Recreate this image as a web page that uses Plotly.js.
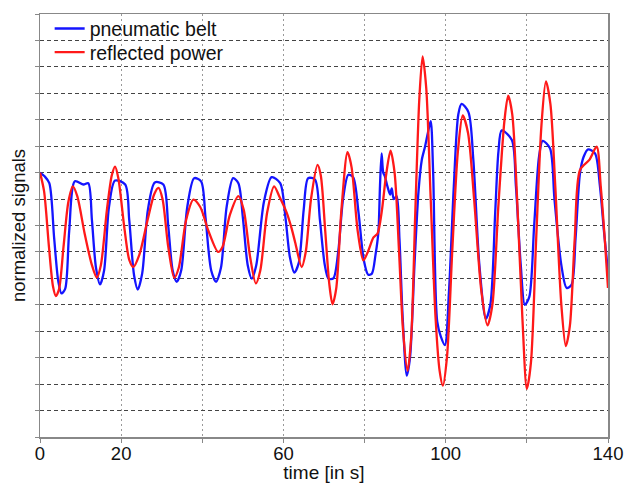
<!DOCTYPE html>
<html>
<head>
<meta charset="utf-8">
<script src="https://cdn.plot.ly/plotly-3.0.1.min.js"></script>
<style>html,body{margin:0;padding:0;background:#fff;}#chart{width:633px;height:483px;}</style>
</head>
<body>
<div id="chart"></div>
<script>
const beltT = [0,1.2,2.3,3.5,4.5,5.3,6.2,7.2,8.6,10.7,11.9,12.8,13.8,14.8,15.8,17.0,18.5,21.0,22.0,23.2,24.1,25.2,26.6,28.3,30.4,31.6,32.7,33.7,34.8,36.3,38.0,39.7,40.8,42.2,43.4,44.6,46.0,47.6,48.9,50.0,51.2,52.2,53.3,55.2,57.1,59.2,60.5,61.6,62.7,63.8,65.0,66.1,67.8,69.0,70.2,71.1,72.3,73.5,74.7,76.0,77.2,78.5,79.8,80.9,81.8,82.7,83.4,83.8,84.2,84.6,85.0,85.6,86.3,86.7,87.2,87.9,88.6,89.4,90.4,91.2,92.3,93.3,94.1,94.9,95.6,96.3,96.9,97.9,98.8,99.8,100.8,102.0,103.1,103.9,105.6,106.8,108.3,109.9,111.0,112.2,113.0,113.8,116.3,117.3,118.5,119.5,120.6,121.8,123.0,123.9,125.7,126.8,128.5,129.8,131.0,132.0,133.1,134.0,135.1,136.8,138.0,139.0,140];
const beltV = [10.0,9.85,9.6,7.5,5.9,5.43,5.6,7.8,9.67,9.55,9.6,8.2,6.4,5.77,6.3,8.7,9.7,9.55,8.2,6.1,5.58,6.2,8.6,9.63,9.55,8.0,6.3,5.87,6.3,8.7,9.79,9.67,8.3,6.3,5.87,6.4,8.7,9.79,9.6,8.3,6.5,5.99,6.5,8.9,9.83,9.6,8.3,6.8,6.22,6.6,8.6,9.79,9.73,8.2,6.5,5.99,6.0,7.0,9.0,9.92,9.82,8.5,6.7,6.14,6.18,6.9,7.74,9.5,10.73,10.0,9.86,9.5,9.17,9.4,9.0,9.11,7.5,4.5,2.32,3.0,6.5,9.3,10.48,10.98,11.5,11.95,10.0,4.37,3.8,3.48,5.5,9.5,12.2,12.6,12.29,10.5,6.5,4.47,5.0,8.5,10.8,11.6,11.23,9.5,6.5,5.0,5.3,8.0,10.6,11.2,10.92,9.0,6.5,5.64,5.75,7.5,9.98,10.6,10.88,10.73,9.5,7.8,6.24];

const powerT = [0,1.0,2.2,3.2,3.9,4.7,5.8,7.0,8.1,9.2,11.0,12.8,14.0,15.0,16.5,17.7,18.5,19.3,20.8,22.0,23.0,24.5,26.5,28.2,29.2,30.2,31.6,33.1,34.2,36.0,37.8,39.5,41.5,43.9,45.0,46.8,48.9,50.2,51.8,53.2,54.3,56.0,57.7,59.0,60.8,62.0,62.9,64.5,65.5,66.8,68.4,69.2,70.3,71.3,72.1,73.0,74.3,75.8,76.8,78.3,79.7,80.8,82.2,83.2,84.2,85.3,86.4,87.4,88.5,89.5,90.6,91.5,92.5,93.5,94.3,95.2,96.3,97.5,98.5,99.3,100.3,101.6,103.0,104.2,105.5,107.0,108.8,110.3,111.5,113.0,114.5,115.4,116.4,117.6,118.9,120.0,121.0,122.3,123.6,124.7,125.8,127.0,128.5,129.6,130.6,131.8,133.1,135.4,137.2,138.2,139.2,140];
const powerV = [10.0,9.3,7.2,5.7,5.33,5.6,7.2,8.9,9.48,9.1,7.7,6.5,6.03,6.5,8.6,9.9,10.23,9.8,7.9,6.7,6.43,6.9,8.2,9.2,9.42,9.0,7.2,6.02,6.4,8.2,8.98,8.7,7.8,7.0,7.2,8.4,9.11,8.6,6.8,5.81,6.3,8.5,9.48,9.1,8.49,7.9,7.36,6.43,7.0,9.0,10.29,9.9,7.8,5.8,5.02,5.6,8.6,10.77,10.2,7.8,6.68,7.0,7.55,7.7,8.49,9.9,10.83,10.0,7.0,4.0,2.5,3.8,8.5,12.8,14.4,13.2,9.0,4.5,2.5,1.94,3.0,7.0,10.8,12.16,11.5,9.0,5.5,4.22,5.0,8.8,12.0,12.91,12.2,9.0,4.5,1.82,2.8,7.5,11.8,13.45,12.6,9.5,5.0,3.44,4.2,7.5,10.1,10.48,10.98,9.5,7.5,5.64];

const xTickVals = [0,20,40,60,80,100,120,140];
const xTickText = ['0','20','','60','','100','','140'];
const seriesNames = ['pneumatic belt','reflected power'];

const traces = [
  {x: beltT, y: beltV, name: seriesNames[0], type: 'scatter', mode: 'lines', legend: 'legend',
   line: {color: 'rgb(20,20,255)', width: 2.3, shape: 'spline', smoothing: 0.8}},
  {x: powerT, y: powerV, name: seriesNames[1], type: 'scatter', mode: 'lines', legend: 'legend2',
   line: {color: 'rgb(255,25,25)', width: 2.3, shape: 'spline', smoothing: 0.8}}
];

const legendBase = {xanchor: 'left', yanchor: 'top', bgcolor: 'rgba(0,0,0,0)',
                    font: {size: 19.5, color: '#111'}, itemwidth: 30};

const layout = {
  width: 633, height: 483,
  margin: {l: 40, r: 25, t: 9, b: 46},
  paper_bgcolor: '#fff', plot_bgcolor: '#fff',
  font: {family: 'Liberation Sans, Arial, sans-serif', size: 19, color: '#111'},
  showlegend: true,
  legend: Object.assign({x: 0.017, y: 1.011}, legendBase),
  legend2: Object.assign({x: 0.017, y: 0.955}, legendBase),
  xaxis: {
    range: [0, 140], tickmode: 'array', tickvals: xTickVals, ticktext: xTickText,
    showgrid: true, gridcolor: '#999', griddash: '2px,3px', gridwidth: 1,
    showline: true, linecolor: '#888', linewidth: 1.5, mirror: true,
    ticks: 'outside', ticklen: 4, tickcolor: '#888', ticklabelstandoff: -5,
    zeroline: false, tickfont: {size: 18.5, color: '#111'},
    title: {text: 'time [in s]', font: {size: 19, color: '#111'}, standoff: 3}
  },
  yaxis: {
    range: [0, 16], tickmode: 'linear', tick0: 0, dtick: 1,
    showticklabels: false,
    showgrid: true, gridcolor: '#444', griddash: '4px,3px', gridwidth: 1,
    showline: true, linecolor: '#888', linewidth: 1.5, mirror: true,
    ticks: 'outside', ticklen: 4, tickcolor: '#888',
    zeroline: false,
    title: {text: 'normalized signals', font: {size: 18.5, color: '#111'}, standoff: 4}
  }
};

Plotly.newPlot('chart', traces, layout, {displayModeBar: false, staticPlot: true});
</script>
</body>
</html>
